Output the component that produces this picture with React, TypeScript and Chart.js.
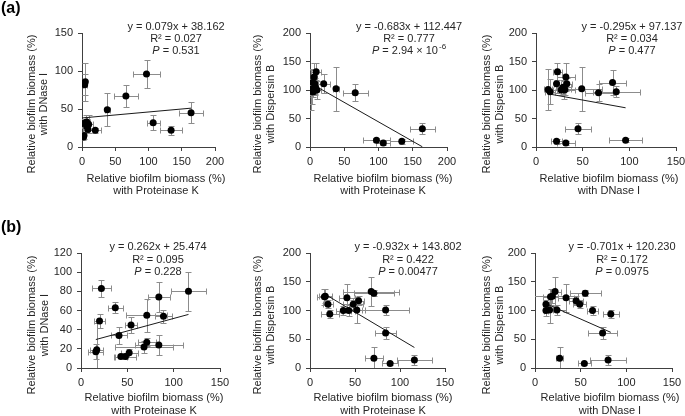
import React, { useEffect, useRef } from 'react';
import { Chart, registerables } from 'chart.js';

Chart.register(...registerables);

// ---------- Panel (a) samples ----------
const pkA = [164, 134, 107, 97, 66, 38, 20, 9, 4, 5, 0, 2, 3, 6, 7, 8, 7, 10];
const pkErrA = [18, 17, 10, 20, 18, 4, 9, 7, 3, 3, 2, 3, 3, 4, 5, 4, 3, 6];
const dnA = [45, 22, 32, 96, 67, 49, 22, 23, 82, 86, 31, 13, 15, 32, 33, 29, 27, 30];
const dnErrA = [14, 6, 10, 18, 15, 22, 3, 5, 14, 25, 6, 4, 5, 10, 6, 8, 5, 12];
const dbA = [32, 10, 7, 12, 95, 102, 111, 132, 113, 97, 101, 101, 97, 123, 111, 105, 100, 100];
const dbErrA = [10, 4, 3, 3, 15, 39, 17, 15, 22, 10, 10, 36, 22, 25, 10, 12, 8, 15];

// ---------- Panel (b) samples ----------
const pkB = [22, 37, 20, 54, 41, 71, 84, 89, 116, 17, 16, 43, 48, 52, 71, 68, 84];
const pkErrB = [10, 8, 6, 6, 9, 22, 12, 9, 19, 7, 8, 7, 11, 9, 10, 31, 26];
const dnB = [83, 63, 49, 45, 34, 55, 74, 54, 80, 19, 17, 12, 12, 16, 27, 22, 24];
const dnErrB = [9, 6, 7, 8, 9, 17, 16, 7, 20, 28, 8, 2, 3, 4, 4, 6, 10];
const dbB = [94, 100, 111, 117, 122, 130, 61, 8, 14, 125, 124, 100, 111, 101, 17, 133, 101];
const dbErrB = [7, 8, 7, 8, 24, 5, 10, 3, 8, 12, 14, 10, 8, 23, 19, 25, 9];

// ---------- Trend line end points ----------
const trendA1X = [0, 164];
const trendA1Y = [38.2, 51.1];
const trendA2X = [0, 164];
const trendA2Y = [112.4, 0.4];
const trendA3X = [13, 96];
const trendA3Y = [93.3, 68.8];
const trendB1X = [16, 116];
const trendB1Y = [29.7, 55.9];
const trendB2X = [16, 116];
const trendB2Y = [128.9, 35.7];
const trendB3X = [12, 83];
const trendB3Y = [111.8, 62.0];

// ---------- Text ----------
const eqA1 = ['y = 0.079x + 38.162', 'R² = 0.027', ' = 0.531', ''];
const eqA2 = ['y = -0.683x + 112.447', 'R² = 0.777', ' = 2.94 × 10', '-6'];
const eqA3 = ['y = -0.295x + 97.137', 'R² = 0.034', ' = 0.477', ''];
const eqB1 = ['y = 0.262x + 25.474', 'R² = 0.095', ' = 0.228', ''];
const eqB2 = ['y = -0.932x + 143.802', 'R² = 0.422', ' = 0.00477', ''];
const eqB3 = ['y = -0.701x + 120.230', 'R² = 0.172', ' = 0.0975', ''];

const titlePK = ['Relative biofilm biomass (%)', 'with Proteinase K'];
const titleDN = ['Relative biofilm biomass (%)', 'with DNase I'];
const titleDB = ['Relative biofilm biomass (%)', 'with Dispersin B'];

const FONT = '"Liberation Sans", Arial, Helvetica, sans-serif';
const TEXT = '#262626';
const AXIS = '#404040';
const ERR = '#8c8c8c';
const W = 685;
const H = 416;
const YW = 30;
const XH = 20;

type Panel = {
  xs: number[]; xe: number[]; ys: number[]; ye: number[];
  tx: number[]; ty: number[];
  xMax: number; yMax: number; xStep: number; yStep: number;
  box: number[];
  eq: string[]; eqX: number; eqY: number[];
  xTitle: string[]; xTitleX: number; xTitleY: number[];
  yTitle: string[]; yTitleX: number[]; yTitleY: number;
  label?: string; labelY?: number;
};

const panels: Panel[] = [
  { xs: pkA, xe: pkErrA, ys: dnA, ye: dnErrA, tx: trendA1X, ty: trendA1Y, xMax: 200, yMax: 150, xStep: 50, yStep: 50,
    box: [82, 33, 215, 147], eq: eqA1, eqX: 176, eqY: [27, 39, 51],
    xTitle: titlePK, xTitleX: 156, xTitleY: [179, 191], yTitle: titleDN, yTitleX: [32, 44], yTitleY: 104, label: '(a)', labelY: 9 },
  { xs: pkA, xe: pkErrA, ys: dbA, ye: dbErrA, tx: trendA2X, ty: trendA2Y, xMax: 200, yMax: 200, xStep: 50, yStep: 50,
    box: [310, 33, 447, 147], eq: eqA2, eqX: 409, eqY: [27, 39, 51],
    xTitle: titlePK, xTitleX: 383, xTitleY: [179, 191], yTitle: titleDB, yTitleX: [258, 271], yTitleY: 104 },
  { xs: dnA, xe: dnErrA, ys: dbA, ye: dbErrA, tx: trendA3X, ty: trendA3Y, xMax: 150, yMax: 200, xStep: 50, yStep: 50,
    box: [536, 33, 676, 147], eq: eqA3, eqX: 632, eqY: [27, 39, 51],
    xTitle: titleDN, xTitleX: 609, xTitleY: [179, 191], yTitle: titleDB, yTitleX: [487, 500], yTitleY: 104 },
  { xs: pkB, xe: pkErrB, ys: dnB, ye: dnErrB, tx: trendB1X, ty: trendB1Y, xMax: 150, yMax: 120, xStep: 50, yStep: 20,
    box: [81, 253, 220, 368], eq: eqB1, eqX: 158, eqY: [247, 259.5, 272],
    xTitle: titlePK, xTitleX: 154, xTitleY: [398, 411], yTitle: titleDN, yTitleX: [32, 45], yTitleY: 325, label: '(b)', labelY: 228 },
  { xs: pkB, xe: pkErrB, ys: dbB, ye: dbErrB, tx: trendB2X, ty: trendB2Y, xMax: 150, yMax: 200, xStep: 50, yStep: 50,
    box: [310, 253, 445, 368], eq: eqB2, eqX: 408, eqY: [247, 259.5, 272],
    xTitle: titlePK, xTitleX: 383, xTitleY: [398, 411], yTitle: titleDB, yTitleX: [258, 271], yTitleY: 325 },
  { xs: dnB, xe: dnErrB, ys: dbB, ye: dbErrB, tx: trendB3X, ty: trendB3Y, xMax: 150, yMax: 200, xStep: 50, yStep: 50,
    box: [535, 253, 672, 368], eq: eqB3, eqX: 622, eqY: [247, 259.5, 272],
    xTitle: titleDN, xTitleX: 610, xTitleY: [398, 411], yTitle: titleDB, yTitleX: [487, 500], yTitleY: 325 },
];

function makePlugins(p: Panel) {
  const errorBars = {
    id: 'errorBars',
    beforeDatasetsDraw(chart: any) {
      const { ctx, chartArea, scales } = chart;
      const x = scales.x;
      const y = scales.y;
      ctx.save();
      ctx.beginPath();
      ctx.rect(chartArea.left, 0, W, chartArea.bottom);
      ctx.clip();
      ctx.strokeStyle = ERR;
      ctx.lineWidth = 1;
      const cap = 3;
      for (let i = 0; i < p.xs.length; i++) {
        const px = Math.round(x.getPixelForValue(p.xs[i])) + 0.5;
        const py = Math.round(y.getPixelForValue(p.ys[i])) + 0.5;
        const x1 = Math.round(x.getPixelForValue(p.xs[i] - p.xe[i])) + 0.5;
        const x2 = Math.round(x.getPixelForValue(p.xs[i] + p.xe[i])) + 0.5;
        const y1 = Math.round(y.getPixelForValue(p.ys[i] - p.ye[i])) + 0.5;
        const y2 = Math.round(y.getPixelForValue(p.ys[i] + p.ye[i])) + 0.5;
        ctx.beginPath();
        ctx.moveTo(x1, py); ctx.lineTo(x2, py);
        ctx.moveTo(x1, py - cap); ctx.lineTo(x1, py + cap);
        ctx.moveTo(x2, py - cap); ctx.lineTo(x2, py + cap);
        ctx.moveTo(px, y1); ctx.lineTo(px, y2);
        ctx.moveTo(px - cap, y1); ctx.lineTo(px + cap, y1);
        ctx.moveTo(px - cap, y2); ctx.lineTo(px + cap, y2);
        ctx.stroke();
      }
      ctx.restore();
    },
  };
  const texts = {
    id: 'panelTexts',
    afterDraw(chart: any) {
      const ctx = chart.ctx;
      ctx.save();
      ctx.fillStyle = TEXT;
      ctx.textBaseline = 'middle';
      ctx.textAlign = 'center';
      ctx.font = `11px ${FONT}`;
      ctx.fillText(p.xTitle[0], p.xTitleX, p.xTitleY[0]);
      ctx.fillText(p.xTitle[1], p.xTitleX, p.xTitleY[1]);
      for (let k = 0; k < 2; k++) {
        ctx.save();
        ctx.translate(p.yTitleX[k], p.yTitleY);
        ctx.rotate(-Math.PI / 2);
        ctx.fillText(p.yTitle[k], 0, 0);
        ctx.restore();
      }
      ctx.fillText(p.eq[0], p.eqX, p.eqY[0]);
      ctx.fillText(p.eq[1], p.eqX, p.eqY[1]);
      ctx.font = `italic 11px ${FONT}`;
      const wP = ctx.measureText('P').width;
      ctx.font = `11px ${FONT}`;
      const wV = ctx.measureText(p.eq[2]).width;
      ctx.font = `8px ${FONT}`;
      const wE = p.eq[3] ? ctx.measureText(p.eq[3]).width + 1 : 0;
      let cx = p.eqX - (wP + wV + wE) / 2;
      ctx.textAlign = 'left';
      ctx.font = `italic 11px ${FONT}`;
      ctx.fillText('P', cx, p.eqY[2]);
      cx += wP;
      ctx.font = `11px ${FONT}`;
      ctx.fillText(p.eq[2], cx, p.eqY[2]);
      cx += wV;
      if (p.eq[3]) {
        ctx.font = `8px ${FONT}`;
        ctx.fillText(p.eq[3], cx + 1, p.eqY[2] - 4);
      }
      if (p.label) {
        ctx.font = `bold 16px ${FONT}`;
        ctx.fillStyle = '#000';
        ctx.fillText(p.label, 1, p.labelY);
      }
      ctx.restore();
    },
  };
  return [errorBars, texts];
}

function makeChart(canvas: HTMLCanvasElement, p: Panel) {
  const [left, top, right, bottom] = p.box;
  const pts = p.xs.map((v, i) => ({ x: v, y: p.ys[i] }));
  const trend = p.tx.map((v, i) => ({ x: v, y: p.ty[i] }));
  const tickFont = { family: FONT, size: 11 };
  return new Chart(canvas, {
    type: 'scatter',
    data: {
      datasets: [
        { data: pts, backgroundColor: '#000', borderColor: '#000', borderWidth: 0, pointRadius: 3.5, pointHoverRadius: 3.5 },
        { data: trend, showLine: true, borderColor: '#1a1a1a', borderWidth: 1, pointRadius: 0, pointHoverRadius: 0, fill: false },
      ],
    },
    options: {
      responsive: false,
      animation: false,
      devicePixelRatio: 1,
      events: [],
      layout: { padding: { left: left - YW, top: top, right: W - right, bottom: H - bottom - XH } },
      plugins: { legend: { display: false }, tooltip: { enabled: false } },
      scales: {
        x: {
          type: 'linear', min: 0, max: p.xMax,
          ticks: { stepSize: p.xStep, font: tickFont, color: TEXT, padding: 4, maxRotation: 0 },
          grid: { drawOnChartArea: false, drawTicks: true, tickLength: 4, color: AXIS },
          border: { display: true, color: AXIS, width: 1 },
          afterFit: (s: any) => { s.height = XH; s.paddingLeft = 0; s.paddingRight = 0; },
        },
        y: {
          type: 'linear', min: 0, max: p.yMax,
          ticks: { stepSize: p.yStep, font: tickFont, color: TEXT, padding: 5 },
          grid: { drawOnChartArea: false, drawTicks: true, tickLength: 4, color: AXIS },
          border: { display: true, color: AXIS, width: 1 },
          afterFit: (s: any) => { s.width = YW; s.paddingTop = 0; s.paddingBottom = 0; },
        },
      },
    } as any,
    plugins: makePlugins(p) as any,
  });
}

export default function App() {
  const refs = useRef<(HTMLCanvasElement | null)[]>([]);
  useEffect(() => {
    const charts = panels.map((p, i) => makeChart(refs.current[i] as HTMLCanvasElement, p));
    return () => charts.forEach((c) => c.destroy());
  }, []);
  return (
    <div style={{ position: 'absolute', left: 0, top: 0, width: W, height: H, background: '#fff', overflow: 'hidden' }}>
      {panels.map((_, i) => (
        <canvas
          key={i}
          ref={(el) => { refs.current[i] = el; }}
          width={W}
          height={H}
          style={{ position: 'absolute', left: 0, top: 0, width: W, height: H }}
        />
      ))}
    </div>
  );
}
